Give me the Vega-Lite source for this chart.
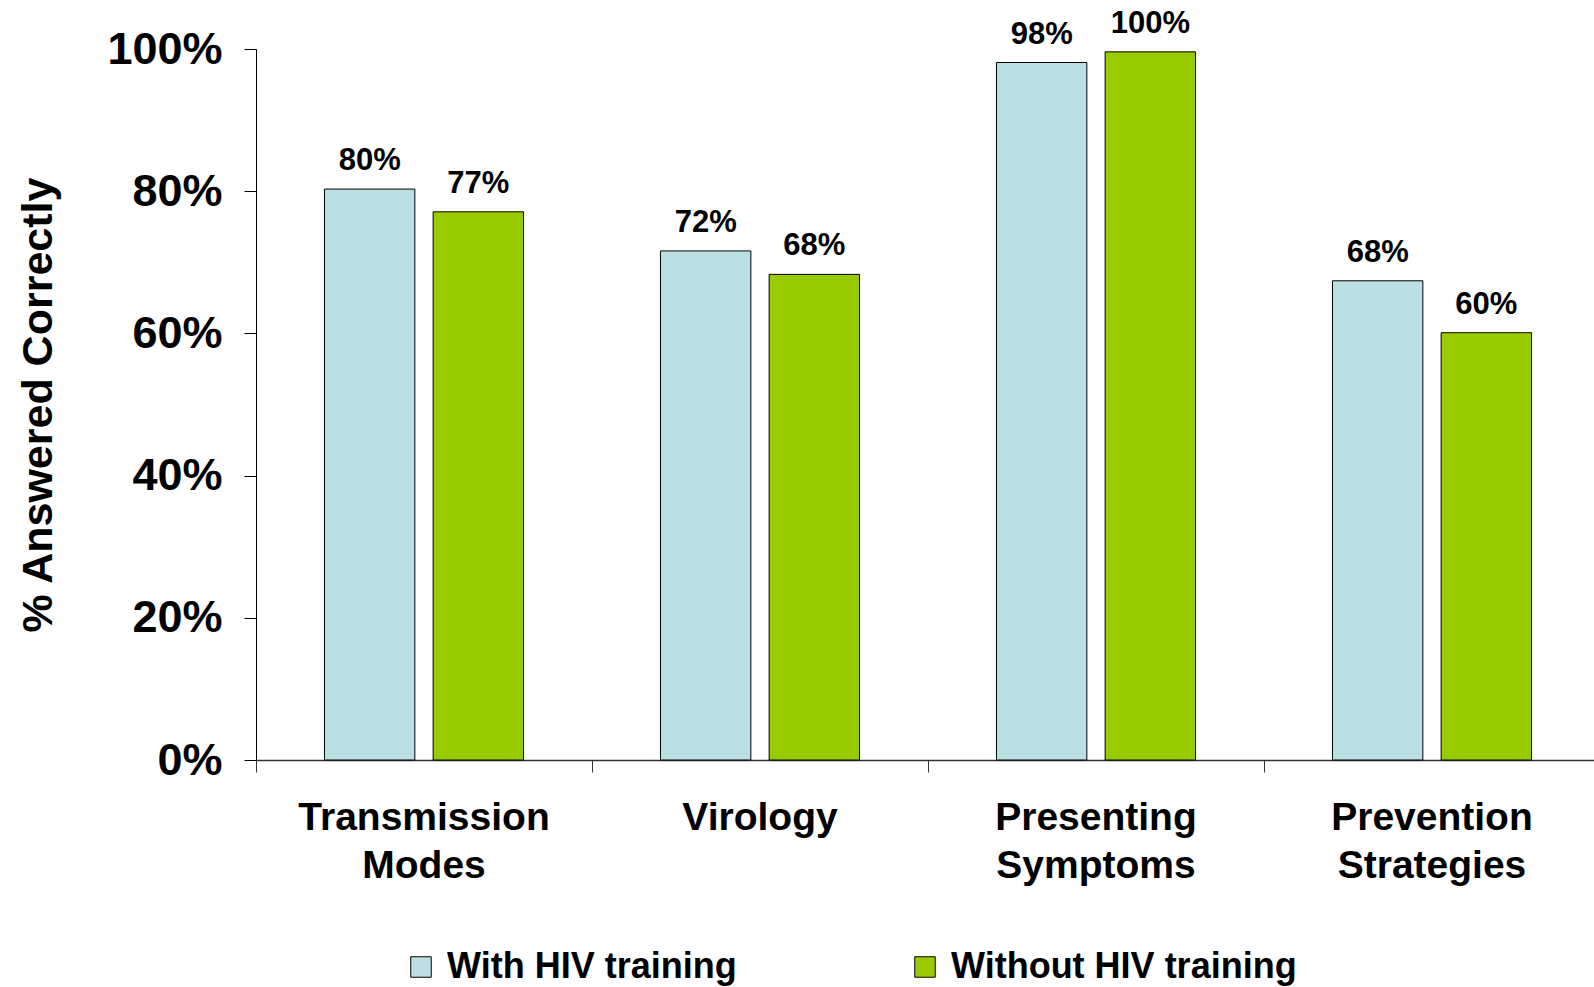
{
  "$schema": "https://vega.github.io/schema/vega-lite/v6.json",
  "autosize": "none",
  "padding": {"left": 256, "top": 49, "right": 0, "bottom": 227},
  "width": 1338,
  "height": 711,
  "background": "white",
  "config": {
    "view": {"stroke": null},
    "font": "Liberation Sans"
  },
  "data": {
    "values": [
      {"category": "Transmission Modes", "group": "With HIV training", "value": 80.3, "label": "80%"},
      {"category": "Transmission Modes", "group": "Without HIV training", "value": 77.1, "label": "77%"},
      {"category": "Virology", "group": "With HIV training", "value": 71.6, "label": "72%"},
      {"category": "Virology", "group": "Without HIV training", "value": 68.3, "label": "68%"},
      {"category": "Presenting Symptoms", "group": "With HIV training", "value": 98.1, "label": "98%"},
      {"category": "Presenting Symptoms", "group": "Without HIV training", "value": 99.6, "label": "100%"},
      {"category": "Prevention Strategies", "group": "With HIV training", "value": 67.4, "label": "68%"},
      {"category": "Prevention Strategies", "group": "Without HIV training", "value": 60.1, "label": "60%"}
    ]
  },
  "encoding": {
    "x": {
      "field": "category",
      "type": "nominal",
      "sort": null,
      "scale": {"paddingInner": 0, "paddingOuter": 0, "range": [0, 1344]},
      "axis": {
        "title": null,
        "labelAngle": 0,
        "labelExpr": "datum.value == 'Virology' ? 'Virology' : split(datum.value, ' ')",
        "labelFont": "Liberation Sans",
        "labelFontWeight": "bold",
        "labelFontSize": 39,
        "labelColor": "black",
        "labelLineHeight": 48,
        "labelPadding": 26,
        "labelBaseline": "top",
        "labelLimit": 500,
        "bandPosition": 0,
        "tickSize": 12,
        "tickColor": "#333333",
        "tickWidth": 1,
        "domainColor": "#333333",
        "domainWidth": 1.5,
        "grid": false
      }
    },
    "xOffset": {
      "field": "group",
      "type": "nominal",
      "scale": {"paddingInner": 0.168, "paddingOuter": 0.63}
    },
    "y": {
      "field": "value",
      "type": "quantitative",
      "scale": {"domain": [0, 100], "nice": false},
      "axis": {
        "title": "% Answered Correctly",
        "titleFont": "Liberation Sans",
        "titleFontSize": 43,
        "titleFontWeight": "bold",
        "titleColor": "black",
        "titlePadding": 46,
        "values": [0, 20, 40, 60, 80, 100],
        "labelExpr": "datum.value + '%'",
        "labelFont": "Liberation Sans",
        "labelFontWeight": "bold",
        "labelFontSize": 45,
        "labelColor": "black",
        "labelPadding": 22,
        "tickSize": 12,
        "tickColor": "black",
        "domainColor": "black",
        "grid": false
      }
    }
  },
  "layer": [
    {
      "mark": {"type": "bar", "stroke": "black", "strokeWidth": 1},
      "encoding": {
        "color": {
          "field": "group",
          "type": "nominal",
          "scale": {"domain": ["With HIV training", "Without HIV training"], "range": ["#BBE0E3", "#99CC00"]},
          "legend": {
            "title": null,
            "orient": "none",
            "direction": "horizontal",
            "legendX": 147,
            "legendY": 900,
            "padding": 0,
            "symbolType": "square",
            "symbolSize": 420,
            "symbolStrokeColor": "black",
            "symbolStrokeWidth": 1,
            "symbolOffset": 0,
            "labelFont": "Liberation Sans",
            "labelFontWeight": "bold",
            "labelFontSize": 36,
            "labelColor": "black",
            "labelLimit": 600,
            "labelOffset": 8,
            "columnPadding": 170
          }
        }
      }
    },
    {
      "mark": {"type": "text", "baseline": "alphabetic", "dy": -19, "font": "Liberation Sans", "fontWeight": "bold", "fontSize": 31, "color": "black"},
      "encoding": {
        "text": {"field": "label"}
      }
    }
  ]
}
